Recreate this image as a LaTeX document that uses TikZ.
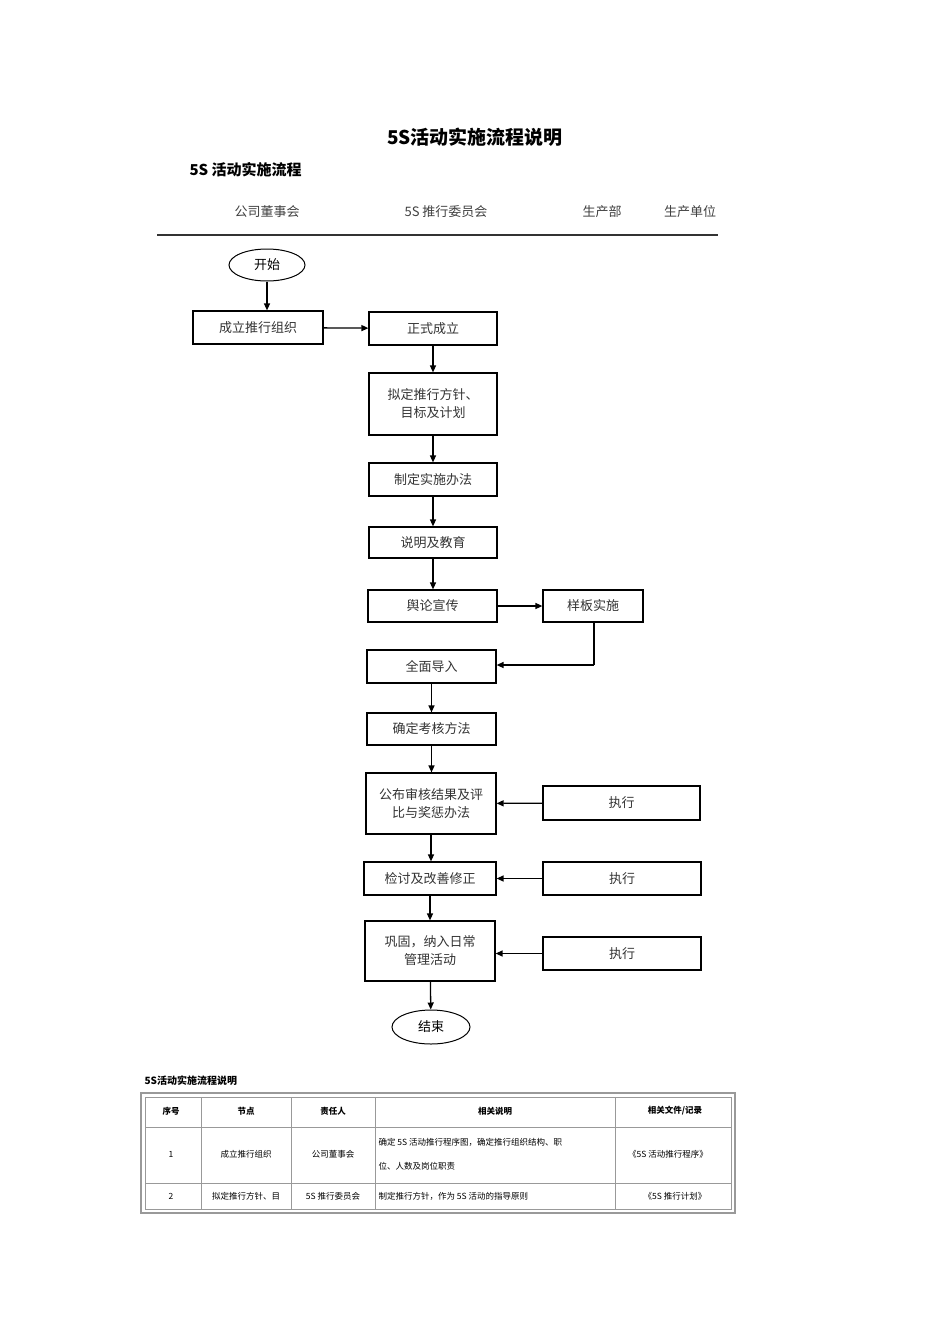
\documentclass[tikz,border=0pt]{standalone}
\usepackage{fontspec}
\setmainfont{Liberation Sans}
\newfontfamily\cjk{Noto Sans CJK SC}
\usetikzlibrary{shapes.geometric,arrows.meta}
\begin{document}
\begin{tikzpicture}[x=1pt,y=-1pt,
 bx/.style={draw,line width=1.2pt,minimum height=#1,font=\cjk\fontsize{13}{18}\selectfont\color{black!80},align=center,inner sep=1pt},
 bx/.default=33pt,
 ov/.style={draw,ellipse,line width=1pt,font=\cjk\fontsize{13}{16}\selectfont,inner sep=0pt},
 ar/.style={-{Triangle[length=7pt,width=6pt]},line width=1.3pt},
 hd/.style={font=\cjk\fontsize{13}{16}\selectfont\color{black!75}},
 tc/.style={font=\cjk\fontsize{8.5}{12}\selectfont,align=center},
 tl/.style={draw=black!40,line width=0.8pt}]
\useasboundingbox (0,0) rectangle (950,1344);
\node[font=\cjk\bfseries\fontsize{19}{22}\selectfont] (t) at (475,137) {5S活动实施流程说明};
\node[font=\cjk\bfseries\fontsize{15}{18}\selectfont,anchor=west] (st) at (186,170) {5S 活动实施流程};
\node[hd] (h1) at (267,212) {公司董事会};
\node[hd] (h2) at (446,212) {5S 推行委员会};
\node[hd] (h3) at (602,212) {生产部};
\node[hd] (h4) at (690,212) {生产单位};
\draw[line width=1.5pt,black!80] (157,235) -- (718,235);
\node[ov,minimum width=76pt,minimum height=32pt] (s) at (267,265) {开始};
\node[bx,minimum width=130pt] (a) at (258,327.5) {成立推行组织};
\node[bx,minimum width=128pt] (b) at (433,328.5) {正式成立};
\node[bx=62pt,minimum width=128pt] (c) at (433,404) {拟定推行方针、\\目标及计划};
\node[bx,minimum width=128pt] (d) at (433,479.5) {制定实施办法};
\node[bx=31pt,minimum width=128pt] (e) at (433,542.5) {说明及教育};
\node[bx=32pt,minimum width=129pt] (f) at (432.5,606) {舆论宣传};
\node[bx=32pt,minimum width=100pt] (g) at (593,606) {样板实施};
\node[bx,minimum width=129pt] (h) at (431.5,666.5) {全面导入};
\node[bx=32pt,minimum width=129pt] (i) at (431.5,729) {确定考核方法};
\node[bx=61pt,minimum width=130pt] (j) at (431,803.5) {公布审核结果及评\\比与奖惩办法};
\node[bx=34pt,minimum width=157pt] (j2) at (621.5,803) {执行};
\node[bx,minimum width=132pt] (k) at (430,878.5) {检讨及改善修正};
\node[bx,minimum width=158pt] (k2) at (622,878.5) {执行};
\node[bx=60pt,minimum width=130pt] (l) at (430,951) {巩固，纳入日常\\管理活动};
\node[bx,minimum width=158pt] (l2) at (622,953.5) {执行};
\node[ov,minimum width=78pt,minimum height=34pt] (z) at (431,1027) {结束};
\draw[ar] (s) -- (a.north -| s);
\draw[ar] (a) -- (b);
\draw[ar] (b) -- (c);
\draw[ar] (c) -- (d);
\draw[ar] (d) -- (e);
\draw[ar] (e) -- (f.north -| e);
\draw[ar] (f) -- (g);
\coordinate (gc) at (594,665);
\draw[line width=1.3pt] (g.south -| gc) -- (gc);
\draw[ar] (gc) -- (h.east |- gc);
\draw[ar] (h.south -| i) -- (i);
\draw[ar] (i) -- (j.north -| i);
\draw[ar] (j2) -- (j);
\draw[ar] (j) -- (k.north -| j);
\draw[ar] (k2) -- (k);
\draw[ar] (k) -- (l);
\draw[ar] (l2.west) -- (l.east |- l2.west);
\draw[ar] (l) -- (z);
% table
\node[font=\cjk\bfseries\fontsize{10}{12}\selectfont,anchor=west] (tt) at (141,1081) {5S活动实施流程说明};
\draw[tl,line width=1.2pt] (141,1093) rectangle (735,1213);
\draw[tl] (145,1097) rectangle (731,1209);
\foreach \x in {201,291,375,615} \draw[tl] (\x,1097) -- (\x,1209);
\foreach \y in {1127,1183} \draw[tl] (145,\y) -- (731,\y);
\node[tc,font=\cjk\bfseries\fontsize{8.5}{12}\selectfont] (c11) at (171,1111) {序号};
\node[tc,font=\cjk\bfseries\fontsize{8.5}{12}\selectfont] (c12) at (246,1111) {节点};
\node[tc,font=\cjk\bfseries\fontsize{8.5}{12}\selectfont] (c13) at (333,1111) {责任人};
\node[tc,font=\cjk\bfseries\fontsize{8.5}{12}\selectfont] (c14) at (495,1111) {相关说明};
\node[tc,font=\cjk\bfseries\fontsize{8.5}{12}\selectfont] (c15) at (675,1111) {相关文件/记录};
\node[tc] (c21) at (171,1154) {1};
\node[tc] (c22) at (246,1154) {成立推行组织};
\node[tc] (c23) at (333,1154) {公司董事会};
\node[tc,align=left,anchor=west,font=\cjk\fontsize{8.5}{24}\selectfont] (c24) at (375,1154) {确定 5S 活动推行程序图，确定推行组织结构、职\\位、人数及岗位职责};
\node[tc] (c25) at (668,1154) {《5S 活动推行程序》};
\node[tc] (c31) at (171,1196) {2};
\node[tc] (c32) at (246,1196) {拟定推行方针、目};
\node[tc] (c33) at (333,1196) {5S 推行委员会};
\node[tc,anchor=west] (c34) at (375,1196) {制定推行方针，作为 5S 活动的指导原则};
\node[tc] (c35) at (675,1196) {《5S 推行计划》};
\end{tikzpicture}
\end{document}
